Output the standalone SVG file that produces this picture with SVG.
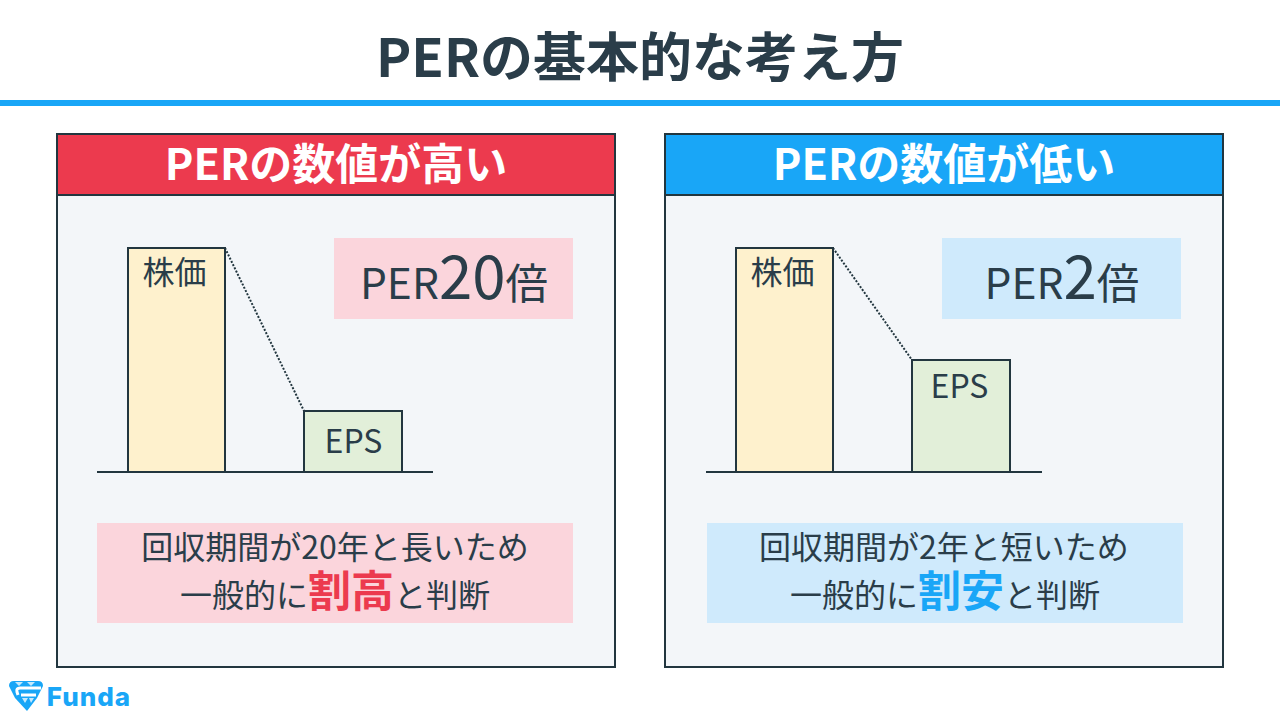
<svg xmlns="http://www.w3.org/2000/svg" width="1280" height="720" viewBox="0 0 1280 720">
<style>
text{font-family:"Noto Sans CJK JP","Noto Sans",sans-serif;fill:#2a3d49;text-anchor:middle}
.h{font-size:43px;font-weight:700;fill:#fff}
.panel{fill:#f3f6f9;stroke:#22363f;stroke-width:2}
.bar1{fill:#fef1cd;stroke:#22363f;stroke-width:2}
.bar2{fill:#e2efd9;stroke:#22363f;stroke-width:2}
.base{stroke:#22363f;stroke-width:2}
.dot{stroke:#22363f;stroke-width:2;stroke-dasharray:2 1.6;fill:none}
.l{font-size:32px}
.m{font-size:32px}
</style>
<rect width="1280" height="720" fill="#fff"/>
<text x="640" y="77" font-size="53" font-weight="700">PERの基本的な考え方</text>
<rect x="0" y="100" width="1280" height="6" fill="#19a6f7"/>
<g id="left">
<rect class="panel" x="57" y="134" width="558" height="533"/>
<rect x="57" y="134" width="558" height="61" fill="#ec3a4e" stroke="#22363f" stroke-width="2"/>
<text class="h" x="336" y="180">PERの数値が高い</text>
<rect x="334" y="238" width="239" height="81" fill="#fbd5dc"/>
<text x="454" y="299" font-size="42.5">PER<tspan font-size="60">20</tspan>倍</text>
<rect class="bar1" x="128" y="248" width="97" height="224"/>
<text class="l" x="174.500" y="284">株価</text>
<rect class="bar2" x="304" y="411" width="98" height="61"/>
<text class="l" x="353.500" y="453">EPS</text>
<path class="dot" d="M225 248L304 411"/>
<path class="base" d="M97 472H433"/>
<rect x="97" y="523" width="476" height="100" fill="#fbd5dc"/>
<text class="m" x="335" y="559">回収期間が20年と長いため</text>
<text class="m" x="335" y="607">一般的に<tspan font-size="43" font-weight="700" fill="#ec3a4e">割高</tspan>と判断</text>
</g>
<g id="right">
<rect class="panel" x="665" y="134" width="558" height="533"/>
<rect x="665" y="134" width="558" height="61" fill="#19a6f7" stroke="#22363f" stroke-width="2"/>
<text class="h" x="944" y="180">PERの数値が低い</text>
<rect x="942" y="238" width="239" height="81" fill="#cfeafc"/>
<text x="1062" y="299" font-size="42.5">PER<tspan font-size="60">2</tspan>倍</text>
<rect class="bar1" x="736" y="248" width="97" height="224"/>
<text class="l" x="782.500" y="284">株価</text>
<rect class="bar2" x="912" y="360" width="98" height="112"/>
<text class="l" x="959.500" y="398">EPS</text>
<path class="dot" d="M833 248L912 360"/>
<path class="base" d="M706 472H1042"/>
<rect x="707" y="523" width="476" height="100" fill="#cfeafc"/>
<text class="m" x="944" y="559">回収期間が2年と短いため</text>
<text class="m" x="945" y="607">一般的に<tspan font-size="43" font-weight="700" fill="#19a6f7">割安</tspan>と判断</text>
</g>
<g id="logo">
<path d="M9 686Q9 681 14 681H38Q43 681 43 686L37 698L27 711L15 698Z" fill="#19a6f7"/>
<path d="M41 688H20Q16 688 17 692L18 695" fill="none" stroke="#fff" stroke-width="3"/>
<path d="M21 695H36" stroke="#fff" stroke-width="3"/>
<path d="M15 682H23L19 686ZM27 682H35L31 686ZM22 698H28L25 703ZM29 698H34L31 703Z" fill="#fff" opacity=".75"/>
<text x="89" y="706" font-size="26" font-weight="800" letter-spacing="1" style="fill:#19a6f7;font-family:Inter,sans-serif">Funda</text>
</g>
</svg>
